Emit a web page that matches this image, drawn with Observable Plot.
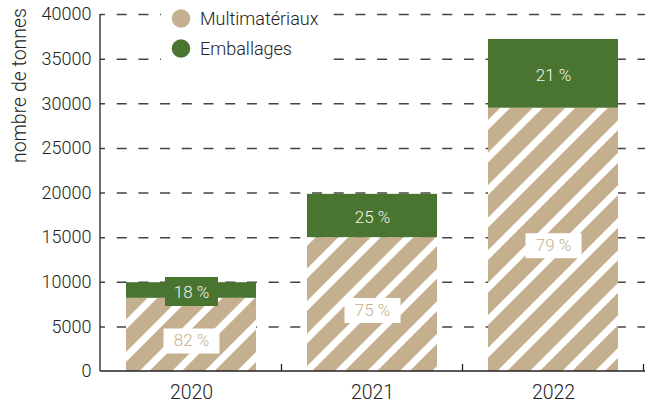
<!DOCTYPE html>
<html>
<head>
<meta charset="utf-8">
<script src="https://cdn.jsdelivr.net/npm/d3@7"></script>
<script src="https://cdn.jsdelivr.net/npm/@observablehq/plot@0.6"></script>
<style>
  html, body { margin: 0; padding: 0; background: #fff; }
  svg { font-family: "Roboto", "Liberation Sans", sans-serif; font-weight: 300; }
</style>
</head>
<body>
<div id="chart"></div>
<script>
// ---- data ----
const years = ["2020", "2021", "2022"];
const multimateriaux = [8200, 15000, 29500];
const emballages = [1750, 4850, 7700];
const pctMulti = ["82 %", "75 %", "79 %"];
const pctEmb = ["18 %", "25 %", "21 %"];
const seriesNames = ["Multimatériaux", "Emballages"];
const yTicks = [0, 5000, 10000, 15000, 20000, 25000, 30000, 35000, 40000];
const yTitle = "nombre de tonnes";

// ---- styles ----
const TAN = "#c4b08e";
const GREEN = "#4a7530";
const INK = "#222";

const rows = years.map((year, i) => ({
  year,
  multi: multimateriaux[i],
  emb: emballages[i],
  total: multimateriaux[i] + emballages[i],
  pm: pctMulti[i],
  pe: pctEmb[i]
}));

const boxSymbol = (w, h) => ({ draw(ctx) { ctx.rect(-w / 2, -h / 2, w, h); } });

const W = 654, H = 405;
const plot = Plot.plot({
  width: W,
  height: H,
  marginLeft: 100,
  marginRight: 9,
  marginTop: 14,
  marginBottom: 34,
  x: { domain: years, paddingInner: 0.28, paddingOuter: 0.14 },
  y: { domain: [0, 40000] },
  style: { fontFamily: "Roboto, 'Liberation Sans', sans-serif", color: INK, background: "white" },
  marks: [
    Plot.gridY(yTicks.filter(d => d > 0), {
      stroke: "#444", strokeOpacity: 1, strokeWidth: 1.5,
      strokeDasharray: "10,11.7", strokeDashoffset: 5
    }),
    Plot.barY(rows, { x: "year", y1: 0, y2: "multi", fill: "url(#hatch)" }),
    Plot.barY(rows, { x: "year", y1: "multi", y2: "total", fill: GREEN }),
    Plot.dot(rows, { x: "year", y: d => (d.multi + d.total) / 2, dy: 1, symbol: boxSymbol(53, 29), fill: GREEN, stroke: null }),
    Plot.text(rows, { x: "year", y: d => (d.multi + d.total) / 2, dy: 2, text: "pe", fill: "#f4f4ee", fontSize: 17, fontWeight: 300 }),
    Plot.dot(rows, { x: "year", y: d => d.multi / 2, dy: 6, symbol: boxSymbol(56, 25), fill: "white", stroke: null }),
    Plot.text(rows, { x: "year", y: d => d.multi / 2, dy: 6, text: "pm", fill: TAN, fontSize: 17, fontWeight: 300 }),
    Plot.axisY(yTicks, { tickSize: 0, tickPadding: 9, tickFormat: d => String(d), fontSize: 18, label: null }),
    Plot.axisX({ tickSize: 0, tickPadding: 14, fontSize: 19.5, label: null })
  ]
});

const svg = d3.select(plot);

// hatch pattern
const defs = svg.insert("defs", ":first-child");
const pat = defs.append("pattern")
  .attr("id", "hatch")
  .attr("patternUnits", "userSpaceOnUse")
  .attr("width", 23).attr("height", 23)
  .attr("patternTransform", "rotate(45)");
pat.append("rect").attr("width", 23).attr("height", 23).attr("fill", "white");
pat.append("rect").attr("width", 16).attr("height", 23).attr("fill", TAN);

// axis lines through the library scales
const xs = plot.scale("x");
const ys = plot.scale("y");
const y0 = ys.apply(0), yTop = ys.apply(40000);
const left = 100, right = W - 9;
const axes = svg.append("g").attr("stroke", INK).attr("stroke-width", 1.3);
axes.append("line").attr("x1", left).attr("x2", left).attr("y1", yTop).attr("y2", y0);
axes.append("line").attr("x1", left).attr("x2", right).attr("y1", y0).attr("y2", y0);
years.forEach((yr, i) => {
  const xb = xs.apply(yr) - (xs.step - xs.bandwidth) / 2 + xs.step;
  axes.append("line").attr("x1", xb).attr("x2", xb).attr("y1", y0).attr("y2", y0 - 7);
});

// y title
svg.append("text")
  .attr("transform", `translate(26,${yTop - 6}) rotate(-90)`)
  .attr("text-anchor", "end")
  .attr("fill", INK)
  .attr("font-size", 19.5)
  .attr("font-weight", 300)
  .text(yTitle);

// legend
const lg = svg.append("g").attr("text-anchor", "start");
lg.append("rect").attr("x", 161).attr("y", 2).attr("width", 161).attr("height", 62).attr("fill", "white");
[TAN, GREEN].forEach((c, i) => {
  lg.append("circle").attr("cx", 181).attr("cy", 18.5 + i * 30).attr("r", 9.3).attr("fill", c);
  lg.append("text").attr("x", 200).attr("y", 18.5 + i * 30).attr("dy", "0.35em")
    .attr("text-anchor", "start")
    .attr("font-size", 18).attr("font-weight", 300).attr("fill", INK).text(seriesNames[i]);
});

document.getElementById("chart").appendChild(plot);
</script>
</body>
</html>
